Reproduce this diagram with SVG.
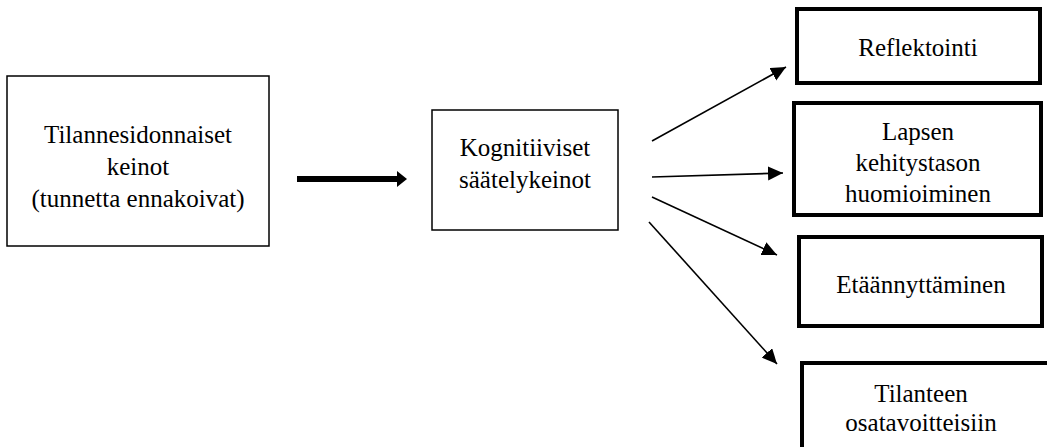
<svg xmlns="http://www.w3.org/2000/svg" width="1047" height="447" viewBox="0 0 1047 447">
<style>
.thin{fill:#fff;stroke:#000;stroke-width:1.5}
.thick{fill:#fff;stroke:#000;stroke-width:4}
.lbl{font-family:"Liberation Serif",Tinos,"Times New Roman","DejaVu Serif",serif;font-size:25px;fill:#000;text-anchor:middle}
.conn{stroke:#000;stroke-width:1.6;fill:none;marker-end:url(#ah)}
</style>
<defs>
<marker id="ah" markerUnits="userSpaceOnUse" markerWidth="16" markerHeight="16" refX="15" refY="7" orient="auto">
<path d="M0,0 L15,7 L0,14 z" fill="#000"/>
</marker>
</defs>
<rect width="1047" height="447" fill="#fff"/>
<g id="n1">
<rect class="thin" x="7" y="76" width="262" height="170"/>
<text class="lbl" x="138" y="143">Tilannesidonnaiset</text>
<text class="lbl" x="138" y="175">keinot</text>
<text class="lbl" x="138" y="207">(tunnetta ennakoivat)</text>
</g>
<g id="n2">
<rect class="thin" x="432" y="110" width="186" height="120"/>
<text class="lbl" x="525" y="156">Kognitiiviset</text>
<text class="lbl" x="525" y="188">säätelykeinot</text>
</g>
<g id="n3">
<rect class="thick" x="797" y="9" width="243" height="74"/>
<text class="lbl" x="918" y="56">Reflektointi</text>
</g>
<g id="n4">
<rect class="thick" x="794" y="103" width="247" height="112"/>
<text class="lbl" x="918" y="140">Lapsen</text>
<text class="lbl" x="918" y="171">kehitystason</text>
<text class="lbl" x="918" y="202">huomioiminen</text>
</g>
<g id="n5">
<rect class="thick" x="799" y="237" width="243" height="89"/>
<text class="lbl" x="921" y="293">Etäännyttäminen</text>
</g>
<g id="n6">
<rect class="thick" x="802" y="363" width="260" height="100"/>
<text class="lbl" x="921" y="402">Tilanteen</text>
<text class="lbl" x="921" y="431">osatavoitteisiin</text>
</g>
<g id="connectors">
<line x1="297" y1="179" x2="399" y2="179" stroke="#000" stroke-width="6"/>
<polygon points="397,171 407,179 397,187" fill="#000"/>
<line class="conn" x1="652" y1="141" x2="786" y2="67"/>
<line class="conn" x1="652" y1="177" x2="783" y2="173"/>
<line class="conn" x1="652" y1="197" x2="777" y2="255"/>
<line class="conn" x1="649" y1="222" x2="777" y2="364"/>
</g>
</svg>
